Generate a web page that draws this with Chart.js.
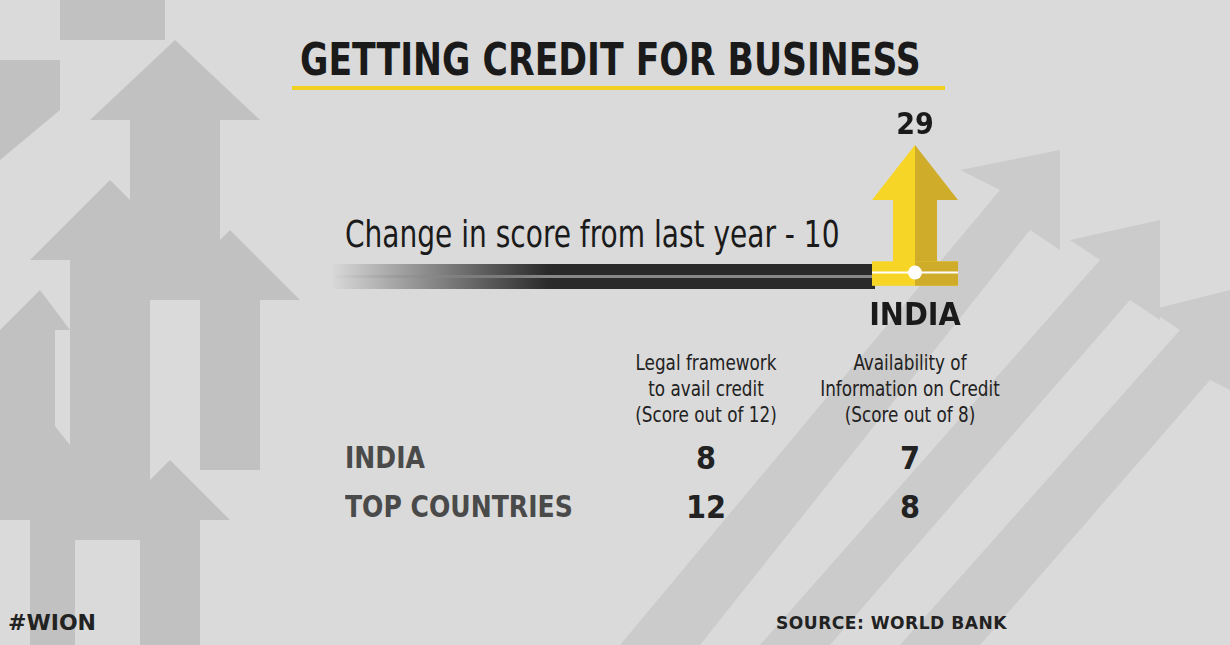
<!DOCTYPE html>
<html><head><meta charset="utf-8">
<script src="https://cdn.jsdelivr.net/npm/chart.js@4"></script>
<style>
body{margin:0;width:1230px;height:645px;overflow:hidden;background:#dadada;font-family:"DejaVu Sans Condensed","DejaVu Sans",sans-serif;position:relative}
.a{position:absolute;white-space:nowrap}
#wrap{position:absolute;left:850px;top:100px;width:130px;height:240px}
</style></head><body>
<svg class="a" style="left:0;top:0" width="1230" height="645">
<g fill="#bdbdbd" opacity="0.85">
<polygon points="60,0 165,0 165,40 60,40"/>
<polygon points="0,60 60,60 60,110 0,160"/>
<polygon points="90,120 175,40 260,120 220,120 220,300 130,300 130,120"/>
<polygon points="30,260 110,180 190,260 150,260 150,540 70,540 70,260"/>
<polygon points="160,300 230,230 300,300 260,300 260,470 200,470 200,300"/>
<polygon points="0,330 40,290 70,330 55,330 55,520 0,520"/>
<polygon points="110,520 170,460 230,520 200,520 200,645 140,645 140,520"/>
<polygon points="10,470 50,420 90,470 75,470 75,645 30,645 30,470"/>
</g>
<g fill="#cbcbcb">
<polygon points="620,645 1000,190 960,170 1060,150 1060,250 1030,230 700,645"/>
<polygon points="760,645 1100,260 1070,240 1160,220 1160,320 1130,300 830,645"/>
<polygon points="900,645 1180,330 1150,310 1230,290 1230,390 1210,380 980,645"/>
</g>
</svg>
<div class="a" style="left:300px;top:34px;font-size:44px;font-weight:bold;color:#1a1a1a;transform:scaleX(0.875);transform-origin:left">GETTING CREDIT FOR BUSINESS</div>
<div class="a" style="left:292px;top:86px;width:653px;height:4px;background:#f0d020"></div>
<div class="a" style="left:345px;top:212px;font-size:38px;color:#1a1a1a;transform:scaleX(0.82);transform-origin:left">Change in score from last year - 10</div>
<div class="a" style="left:330px;top:264px;width:545px;height:25px;background:linear-gradient(90deg,rgba(40,40,40,0),#2a2a2a 40%,#2a2a2a)"></div>
<div class="a" style="left:330px;top:275px;width:545px;height:3px;background:linear-gradient(90deg,rgba(150,150,150,0),#888 40%,#888)"></div>
<div id="wrap"><canvas id="c"></canvas></div>
<div id="tbl"></div>
<div class="a" style="left:8px;top:610px;font-size:22px;font-weight:bold;color:#222;font-family:'DejaVu Sans',sans-serif">#WION</div>
<div class="a" style="left:776px;top:612px;font-size:18px;font-weight:bold;color:#222;font-family:'DejaVu Sans',sans-serif;letter-spacing:0.5px;transform:scaleX(0.95);transform-origin:left">SOURCE: WORLD BANK</div>
<script>
const categories=["INDIA"];
const scoreValues=[29];
const changeLabel="Change in score from last year - 10";
const columnHeaders=[["Legal framework","to avail credit","(Score out of 12)"],["Availability of","Information on Credit","(Score out of 8)"]];
const rowLabels=["INDIA","TOP COUNTRIES"];
const legalScores=[8,12];
const infoScores=[7,8];

const t=document.getElementById('tbl');
const colX=[706,910];
columnHeaders.forEach((h,i)=>{const d=document.createElement('div');d.className='a';d.style.cssText=`left:${colX[i]-120}px;width:240px;top:350px;text-align:center;font-size:22px;line-height:26px;color:#222;transform:scaleX(0.85)`;d.innerHTML=h.join('<br>');t.appendChild(d);});
rowLabels.forEach((r,i)=>{const y=440+i*49;
 const d=document.createElement('div');d.className='a';d.style.cssText=`left:345px;top:${y}px;font-size:30px;font-weight:bold;color:#4a4a4a;transform:scaleX(0.93);transform-origin:left`;d.textContent=r;t.appendChild(d);
 [legalScores[i],infoScores[i]].forEach((v,j)=>{const e=document.createElement('div');e.className='a';e.style.cssText=`left:${colX[j]-60}px;width:120px;text-align:center;top:${y-1}px;font-size:32px;font-weight:bold;color:#222`;e.textContent=v;t.appendChild(e);});
});

const arrowPlugin={id:'arrow',afterDatasetsDraw(ch){
 const ctx=ch.ctx;const m=ch.getDatasetMeta(0);
 m.data.forEach((b,i)=>{
  const x=b.x,top=b.y,base=b.base,w=86,hw=w/2,sw=22,head=55;
  ctx.save();
  ctx.fillStyle='#f7d527';
  ctx.beginPath();ctx.moveTo(x,top);ctx.lineTo(x-hw,top+head);ctx.lineTo(x-sw,top+head);ctx.lineTo(x-sw,base-24);ctx.lineTo(x-hw,base-24);ctx.lineTo(x-hw,base);ctx.lineTo(x,base);ctx.closePath();ctx.fill();
  ctx.fillStyle='#cfac2a';
  ctx.beginPath();ctx.moveTo(x,top);ctx.lineTo(x+hw,top+head);ctx.lineTo(x+sw,top+head);ctx.lineTo(x+sw,base-24);ctx.lineTo(x+hw,base-24);ctx.lineTo(x+hw,base);ctx.lineTo(x,base);ctx.closePath();ctx.fill();
  ctx.fillStyle='#f7d527';ctx.fillRect(x-hw,base-24,w,24);
  ctx.fillStyle='#cfac2a';ctx.fillRect(x,base-24,hw,24);
  ctx.strokeStyle='#fff';ctx.lineWidth=2;ctx.beginPath();ctx.moveTo(x-hw,base-13);ctx.lineTo(x+hw,base-13);ctx.stroke();
  ctx.fillStyle='#fff';ctx.beginPath();ctx.arc(x,base-13,7,0,Math.PI*2);ctx.fill();
  ctx.fillStyle='#1a1a1a';ctx.font='bold 30px "DejaVu Sans Condensed",sans-serif';ctx.textAlign='center';ctx.textBaseline='bottom';
  ctx.fillText(scoreValues[i],x,top-4);
  ctx.restore();
 });
}};
new Chart(document.getElementById('c'),{type:'bar',
 data:{labels:categories,datasets:[{data:scoreValues,backgroundColor:'rgba(0,0,0,0)',barThickness:86}]},
 options:{responsive:true,maintainAspectRatio:false,animation:false,
  layout:{padding:{top:45,bottom:0}},
  plugins:{legend:{display:false},tooltip:{enabled:false}},
  scales:{y:{display:false,min:0,max:29},
   x:{grid:{display:false},border:{display:false},ticks:{color:'#1a1a1a',font:{size:32,weight:'bold',family:'"DejaVu Sans Condensed",sans-serif'},padding:4}}}},
 plugins:[arrowPlugin]});
</script>
</body></html>
